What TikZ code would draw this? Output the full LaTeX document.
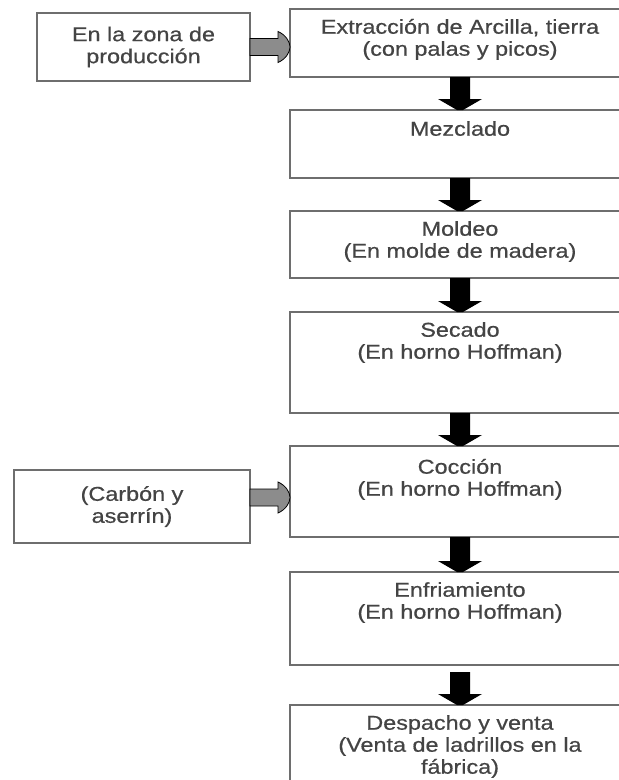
\documentclass[tikz,border=0pt]{standalone}
\usepackage{fontspec}
\setmainfont[FakeStretch=1.17,FakeBold=0.6]{Liberation Sans}
\usetikzlibrary{calc}
\definecolor{boxline}{HTML}{6E6E6E}
\definecolor{txtcol}{HTML}{444444}
\definecolor{grayarrow}{HTML}{8C8C8C}
% black block arrow: [gap]{from}{to}
\newcommand\blockarrow[3][0]{%
  \fill[black] ($(#2.south)+(-10,-#1)$) -- ($(#3.north)+(-10,11)$) -- ($(#3.north)+(-22,11)$)
    -- ($(#3.north)+(-3,0)$) -- ($(#3.north)+(3,0)$) -- ($(#3.north)+(22,11)$)
    -- ($(#3.north)+(10,11)$) -- ($(#2.south)+(10,-#1)$) -- cycle;}
% grey side arrow between two coordinates
\newcommand\sidearrow[2]{%
  \filldraw[fill=grayarrow, draw=black, line width=0.8pt]
    ($(#1)+(0,8.5)$) -- ($(#2)+(-12,8.5)$) -- ($(#2)+(-12,15.5)$)
    .. controls ($(#2)+(-4,12)$) and ($(#2)+(0,5)$) .. ($(#2)+(0,0)$)
    .. controls ($(#2)+(0,-5)$) and ($(#2)+(-4,-12)$) .. ($(#2)+(-12,-15.5)$)
    -- ($(#2)+(-12,-8.5)$) -- ($(#1)+(0,-8.5)$) -- cycle;}
\begin{document}
\begin{tikzpicture}[x=1pt,y=1pt,
  box/.style={draw=boxline, line width=2pt, rectangle, inner sep=0pt, outer sep=0pt, anchor=north west},
  mainbox/.style={box, minimum width=340pt},
  txt/.style={text=txtcol, align=center, inner sep=0pt, font=\fontsize{20}{22}\selectfont},
  toptxt/.style={txt, anchor=north}]
\useasboundingbox (0,0) rectangle (619,-780);
\fill[white] (0,0) rectangle (619,-780);
\clip (0,0) rectangle (619,-780);
% main boxes
\node[mainbox, minimum height=68pt] (b1) at (290,-9) {};
\node[mainbox, minimum height=68pt] (b2) at (290,-110) {};
\node[mainbox, minimum height=67pt] (b3) at (290,-211) {};
\node[mainbox, minimum height=101pt] (b4) at (290,-312) {};
\node[mainbox, minimum height=91pt] (b5) at (290,-446) {};
\node[mainbox, minimum height=93pt] (b6) at (290,-572) {};
\node[mainbox, minimum height=95pt] (b7) at (290,-705) {};
% texts
\node[toptxt] (t1) at ($(b1.north)+(0,-4.5)$) {\rule{0pt}{20pt}Extracción de Arcilla, tierra\\(con palas y picos)};
\node[toptxt] (t2) at ($(b2.north)+(0,-5.5)$) {\rule{0pt}{20pt}Mezclado};
\node[toptxt] (t3) at ($(b3.north)+(0,-4.5)$) {\rule{0pt}{20pt}Moldeo\\(En molde de madera)};
\node[toptxt] (t4) at ($(b4.north)+(0,-4.5)$) {\rule{0pt}{20pt}Secado\\(En horno Hoffman)};
\node[toptxt] (t5) at ($(b5.north)+(0,-7.5)$) {\rule{0pt}{20pt}Cocción\\(En horno Hoffman)};
\node[toptxt] (t6) at ($(b6.north)+(0,-4.5)$) {\rule{0pt}{20pt}Enfriamiento\\(En horno Hoffman)};
\node[toptxt] (t7) at ($(b7.north)+(0,-4.5)$) {\rule{0pt}{20pt}Despacho y venta\\(Venta de ladrillos en la\\fábrica)};
% left boxes
\node[box, minimum width=213pt, minimum height=68pt, txt, text=txtcol] (l1) at (37,-13) {En la zona de\\producción};
\node[box, minimum width=236pt, minimum height=73pt, txt, text=txtcol] (l2) at (14,-470) {(Carbón y\\aserrín)};
% black arrows
\blockarrow{b1}{b2}
\blockarrow{b2}{b3}
\blockarrow{b3}{b4}
\blockarrow{b4}{b5}
\blockarrow{b5}{b6}
\blockarrow[7]{b6}{b7}
% grey side arrows
\coordinate (ga1s) at (l1.east);
\coordinate (ga1e) at (l1.east -| b1.west);
\coordinate (ga2s) at ($(l2.east)+(0,9)$);
\coordinate (ga2e) at (ga2s -| b5.west);
\sidearrow{ga1s}{ga1e}
\sidearrow{ga2s}{ga2e}
\end{tikzpicture}
\end{document}
